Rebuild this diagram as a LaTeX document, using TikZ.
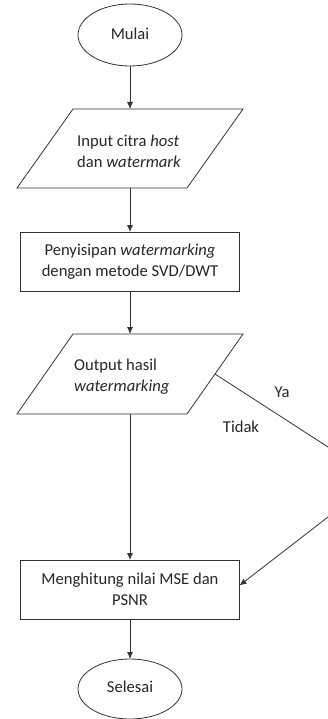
\documentclass[tikz,border=0pt]{standalone}
\usepackage{fontspec}
\setmainfont{Carlito}
\usetikzlibrary{shapes.geometric,arrows.meta,calc}
\begin{document}
\begin{tikzpicture}[x=1pt,y=-1pt,
  every node/.style={font=\fontsize{16.6}{21}\selectfont, text=black!85},
  line/.style={draw=black!80, line width=0.8pt},
  arr/.style={line, -{Latex[length=7pt,width=6pt]}},
  term/.style={line, ellipse, minimum width=104pt, minimum height=62pt, inner sep=0pt, outer sep=0pt},
  proc/.style={line, rectangle, minimum width=219pt, minimum height=59pt, inner sep=0pt, outer sep=0pt, align=center},
  io/.style={rectangle, minimum width=170pt, minimum height=79pt, inner sep=0pt, outer sep=0pt},
  txt/.style={inner sep=0pt, anchor=west}
]
\useasboundingbox (0,0) rectangle (328,719);
\node[term] (mulai) at (130,35) {\raisebox{3pt}{Mulai}};
\node[io] (in) at (130,148.5) {};
\draw[line] ($(in.south west)+(-28,0)$) -- ($(in.north west)+(28,0)$) -- ($(in.north east)+(28,0)$) -- ($(in.south east)+(-28,0)$) -- cycle;
\node[txt] (intext) at (77,153) {\begin{tabular}{@{}l@{}}Input citra \textit{host}\\dan \textit{watermark}\end{tabular}};
\node[proc] (sisip) at (130,261.5) {Penyisipan \textit{watermarking}\\dengan metode SVD/DWT};
\node[io, minimum height=80pt] (out) at (130,374) {};
\draw[line] ($(out.south west)+(-28,0)$) -- ($(out.north west)+(28,0)$) -- ($(out.north east)+(28,0)$) -- ($(out.south east)+(-28,0)$) -- cycle;
\node[txt] (outtext) at (74,377) {\begin{tabular}{@{}l@{}}Output hasil\\\textit{watermarking}\end{tabular}};
\node[proc] (mse) at (130,589.5) {Menghitung nilai MSE dan\\PSNR};
\node[term, minimum height=60pt] (selesai) at (130,689) {\raisebox{5pt}{Selesai}};
\coordinate (r1) at (328,447);
\coordinate (r2) at (328,517);
\node (ya) at (282,392) {Ya};
\node (tidak) at (241,427) {Tidak};

\draw[arr] (mulai) -- (in);
\draw[arr] (in) -- (sisip);
\draw[arr] (sisip) -- (out);
\draw[arr] (out) -- (mse);
\draw[arr] (mse) -- (selesai);
\draw[line] (out.east) -- (r1);
\draw[arr] (r2) -- ($(mse.east)+(0,-4)$);
\end{tikzpicture}
\end{document}
